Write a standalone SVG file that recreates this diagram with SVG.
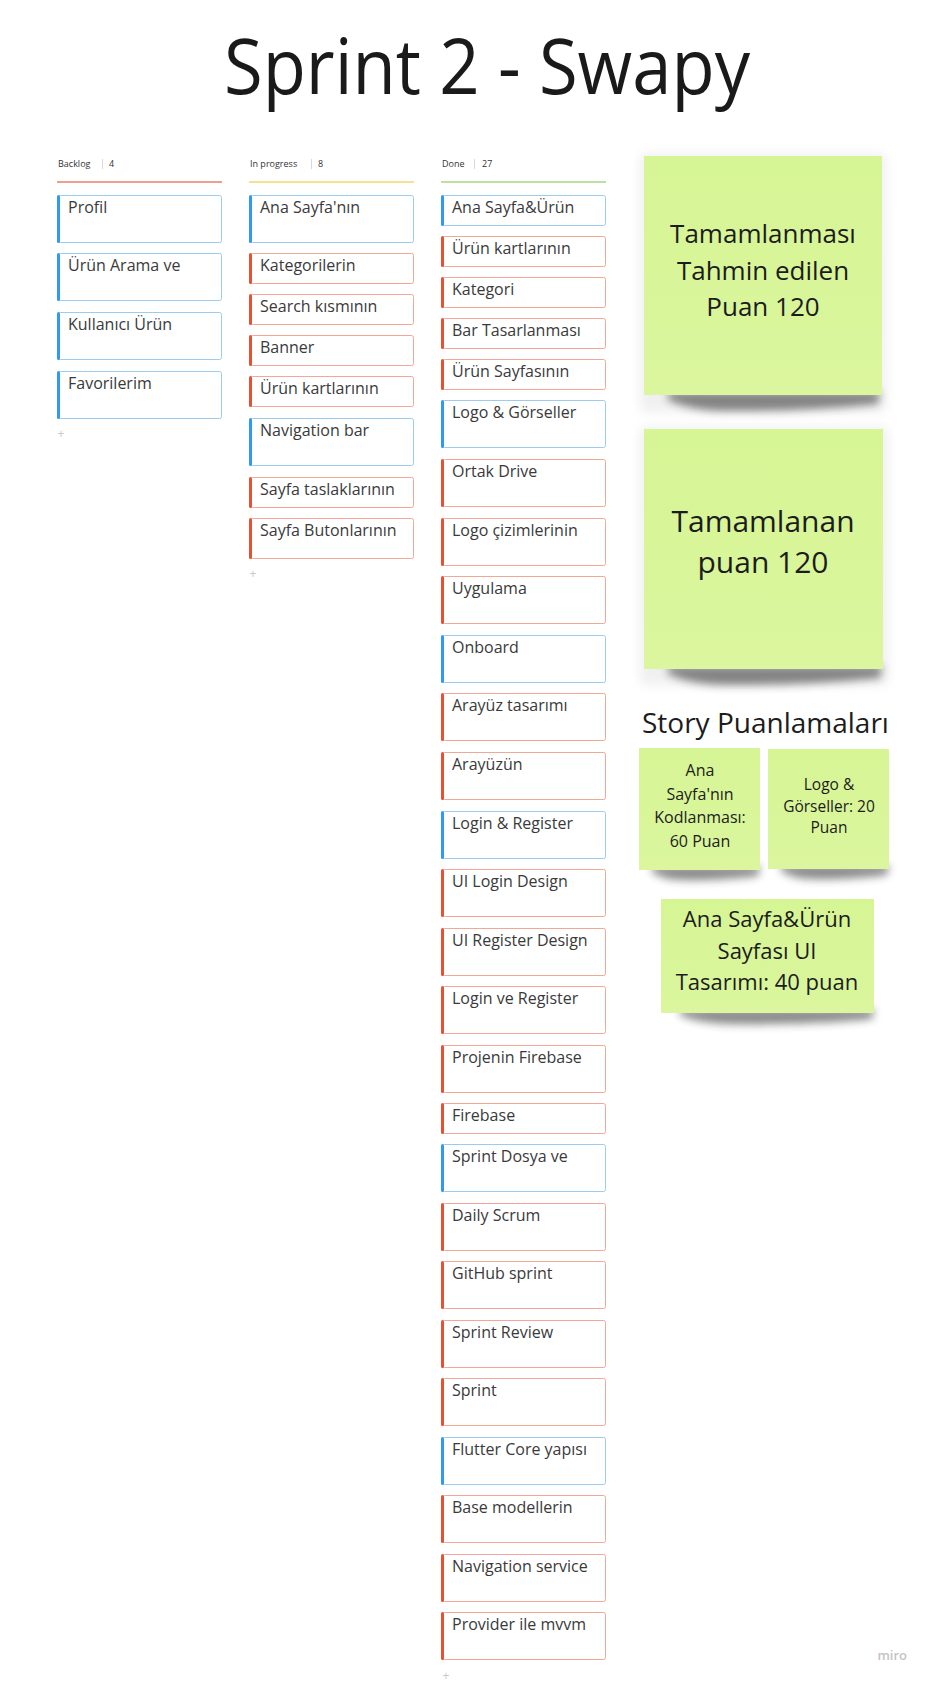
<svg xmlns="http://www.w3.org/2000/svg" width="928" height="1682" viewBox="0 0 928 1682">
<defs>
<filter id="blur" x="-20%" y="-100%" width="140%" height="300%"><feGaussianBlur stdDeviation="4"/></filter>
<filter id="blur2" x="-20%" y="-20%" width="140%" height="140%"><feGaussianBlur stdDeviation="6"/></filter>
<linearGradient id="stk" x1="0" y1="0" x2="0" y2="1"><stop offset="0" stop-color="#d6f594"/><stop offset="1" stop-color="#dbf69e"/></linearGradient>
</defs>
<style>
text{font-family:"Open Sans","Noto Sans","Liberation Sans",sans-serif}
.title{font-size:76px;fill:#1a1a1a}
.hdr{font-size:9px;fill:#333}
.sep{stroke:#d8d8d8;stroke-width:1}
.card .box{fill:#fff;stroke-width:1}
.card text{font-size:16px;fill:#3a3a3a}
.blue .box{stroke:#9ccbf0}
.blue .bar{fill:#2f9bf0}
.red .box{stroke:#f2a797}
.red .bar{fill:#e8512f}
.plus{font-size:12px;fill:#c8c8c8;text-anchor:middle}
.note{fill:url(#stk)}
.shadow{fill:#2a2a2a;opacity:0.55;filter:url(#blur)}
.glow{fill:#000;opacity:0.06;filter:url(#blur2)}
.ntext{fill:#1c1c1c;text-anchor:middle}
</style>
<rect width="928" height="1682" fill="#fff"/>
<g id="title"><text class="title" x="487" y="94" text-anchor="middle" textLength="526" lengthAdjust="spacingAndGlyphs">Sprint 2 - Swapy</text></g>

<g id="col-backlog">
<text class="hdr" x="58" y="167">Backlog</text><line class="sep" x1="102.5" y1="159" x2="102.5" y2="169"/><text class="hdr" x="109" y="167">4</text>
<line x1="57" y1="182" x2="222" y2="182" stroke="#e8806a" stroke-width="1.6"/>
</g>
<g id="col-progress">
<text class="hdr" x="250" y="167">In progress</text><line class="sep" x1="311.5" y1="159" x2="311.5" y2="169"/><text class="hdr" x="318" y="167">8</text>
<line x1="249" y1="182" x2="414" y2="182" stroke="#f5d66a" stroke-width="1.6"/>
</g>
<g id="col-done">
<text class="hdr" x="442" y="167">Done</text><line class="sep" x1="474.5" y1="159" x2="474.5" y2="169"/><text class="hdr" x="482" y="167">27</text>
<line x1="441" y1="182" x2="606" y2="182" stroke="#a8d47f" stroke-width="1.6"/>
</g>

<!-- Backlog cards -->
<g id="b1" class="card blue"><rect class="box" x="58.5" y="195.5" width="163" height="47" rx="2"/><rect class="bar" x="57" y="195" width="3" height="48" rx="1.5"/><text x="68" y="213">Profil</text></g>
<g id="b2" class="card blue"><rect class="box" x="58.5" y="253.5" width="163" height="47" rx="2"/><rect class="bar" x="57" y="253" width="3" height="48" rx="1.5"/><text x="68" y="271">Ürün Arama ve</text></g>
<g id="b3" class="card blue"><rect class="box" x="58.5" y="312.5" width="163" height="47" rx="2"/><rect class="bar" x="57" y="312" width="3" height="48" rx="1.5"/><text x="68" y="330">Kullanıcı Ürün</text></g>
<g id="b4" class="card blue"><rect class="box" x="58.5" y="371.5" width="163" height="47" rx="2"/><rect class="bar" x="57" y="371" width="3" height="48" rx="1.5"/><text x="68" y="389">Favorilerim</text></g>
<text class="plus" x="61" y="438">+</text>

<!-- In progress cards -->
<g id="p1" class="card blue"><rect class="box" x="250.5" y="195.5" width="163" height="47" rx="2"/><rect class="bar" x="249" y="195" width="3" height="48" rx="1.5"/><text x="260" y="213">Ana Sayfa'nın</text></g>
<g id="p2" class="card red"><rect class="box" x="250.5" y="253.5" width="163" height="30" rx="2"/><rect class="bar" x="249" y="253" width="3" height="31" rx="1.5"/><text x="260" y="271">Kategorilerin</text></g>
<g id="p3" class="card red"><rect class="box" x="250.5" y="294.5" width="163" height="30" rx="2"/><rect class="bar" x="249" y="294" width="3" height="31" rx="1.5"/><text x="260" y="312">Search kısmının</text></g>
<g id="p4" class="card red"><rect class="box" x="250.5" y="335.5" width="163" height="30" rx="2"/><rect class="bar" x="249" y="335" width="3" height="31" rx="1.5"/><text x="260" y="353">Banner</text></g>
<g id="p5" class="card red"><rect class="box" x="250.5" y="376.5" width="163" height="30" rx="2"/><rect class="bar" x="249" y="376" width="3" height="31" rx="1.5"/><text x="260" y="394">Ürün kartlarının</text></g>
<g id="p6" class="card blue"><rect class="box" x="250.5" y="418.5" width="163" height="47" rx="2"/><rect class="bar" x="249" y="418" width="3" height="48" rx="1.5"/><text x="260" y="436">Navigation bar</text></g>
<g id="p7" class="card red"><rect class="box" x="250.5" y="477.5" width="163" height="30" rx="2"/><rect class="bar" x="249" y="477" width="3" height="31" rx="1.5"/><text x="260" y="495">Sayfa taslaklarının</text></g>
<g id="p8" class="card red"><rect class="box" x="250.5" y="518.5" width="163" height="40" rx="2"/><rect class="bar" x="249" y="518" width="3" height="41" rx="1.5"/><text x="260" y="536">Sayfa Butonlarının</text></g>
<text class="plus" x="253" y="578">+</text>

<!-- Done cards -->
<g id="d1" class="card blue"><rect class="box" x="442.5" y="195.5" width="163" height="30" rx="2"/><rect class="bar" x="441" y="195" width="3" height="31" rx="1.5"/><text x="452" y="213">Ana Sayfa&amp;Ürün</text></g>
<g id="d2" class="card red"><rect class="box" x="442.5" y="236.5" width="163" height="30" rx="2"/><rect class="bar" x="441" y="236" width="3" height="31" rx="1.5"/><text x="452" y="254">Ürün kartlarının</text></g>
<g id="d3" class="card red"><rect class="box" x="442.5" y="277.5" width="163" height="30" rx="2"/><rect class="bar" x="441" y="277" width="3" height="31" rx="1.5"/><text x="452" y="295">Kategori</text></g>
<g id="d4" class="card red"><rect class="box" x="442.5" y="318.5" width="163" height="30" rx="2"/><rect class="bar" x="441" y="318" width="3" height="31" rx="1.5"/><text x="452" y="336">Bar Tasarlanması</text></g>
<g id="d5" class="card red"><rect class="box" x="442.5" y="359.5" width="163" height="30" rx="2"/><rect class="bar" x="441" y="359" width="3" height="31" rx="1.5"/><text x="452" y="377">Ürün Sayfasının</text></g>
<g id="d6" class="card blue"><rect class="box" x="442.5" y="400.5" width="163" height="47" rx="2"/><rect class="bar" x="441" y="400" width="3" height="48" rx="1.5"/><text x="452" y="418">Logo &amp; Görseller</text></g>
<g id="d7" class="card red"><rect class="box" x="442.5" y="459.5" width="163" height="47" rx="2"/><rect class="bar" x="441" y="459" width="3" height="48" rx="1.5"/><text x="452" y="477">Ortak Drive</text></g>
<g id="d8" class="card red"><rect class="box" x="442.5" y="518.5" width="163" height="47" rx="2"/><rect class="bar" x="441" y="518" width="3" height="48" rx="1.5"/><text x="452" y="536">Logo çizimlerinin</text></g>
<g id="d9" class="card red"><rect class="box" x="442.5" y="576.5" width="163" height="47" rx="2"/><rect class="bar" x="441" y="576" width="3" height="48" rx="1.5"/><text x="452" y="594">Uygulama</text></g>
<g id="d10" class="card blue"><rect class="box" x="442.5" y="635.5" width="163" height="47" rx="2"/><rect class="bar" x="441" y="635" width="3" height="48" rx="1.5"/><text x="452" y="653">Onboard</text></g>
<g id="d11" class="card red"><rect class="box" x="442.5" y="693.5" width="163" height="47" rx="2"/><rect class="bar" x="441" y="693" width="3" height="48" rx="1.5"/><text x="452" y="711">Arayüz tasarımı</text></g>
<g id="d12" class="card red"><rect class="box" x="442.5" y="752.5" width="163" height="47" rx="2"/><rect class="bar" x="441" y="752" width="3" height="48" rx="1.5"/><text x="452" y="770">Arayüzün</text></g>
<g id="d13" class="card blue"><rect class="box" x="442.5" y="811.5" width="163" height="47" rx="2"/><rect class="bar" x="441" y="811" width="3" height="48" rx="1.5"/><text x="452" y="829">Login &amp; Register</text></g>
<g id="d14" class="card red"><rect class="box" x="442.5" y="869.5" width="163" height="47" rx="2"/><rect class="bar" x="441" y="869" width="3" height="48" rx="1.5"/><text x="452" y="887">UI Login Design</text></g>
<g id="d15" class="card red"><rect class="box" x="442.5" y="928.5" width="163" height="47" rx="2"/><rect class="bar" x="441" y="928" width="3" height="48" rx="1.5"/><text x="452" y="946">UI Register Design</text></g>
<g id="d16" class="card red"><rect class="box" x="442.5" y="986.5" width="163" height="47" rx="2"/><rect class="bar" x="441" y="986" width="3" height="48" rx="1.5"/><text x="452" y="1004">Login ve Register</text></g>
<g id="d17" class="card red"><rect class="box" x="442.5" y="1045.5" width="163" height="47" rx="2"/><rect class="bar" x="441" y="1045" width="3" height="48" rx="1.5"/><text x="452" y="1063">Projenin Firebase</text></g>
<g id="d18" class="card red"><rect class="box" x="442.5" y="1103.5" width="163" height="30" rx="2"/><rect class="bar" x="441" y="1103" width="3" height="31" rx="1.5"/><text x="452" y="1121">Firebase</text></g>
<g id="d19" class="card blue"><rect class="box" x="442.5" y="1144.5" width="163" height="47" rx="2"/><rect class="bar" x="441" y="1144" width="3" height="48" rx="1.5"/><text x="452" y="1162">Sprint Dosya ve</text></g>
<g id="d20" class="card red"><rect class="box" x="442.5" y="1203.5" width="163" height="47" rx="2"/><rect class="bar" x="441" y="1203" width="3" height="48" rx="1.5"/><text x="452" y="1221">Daily Scrum</text></g>
<g id="d21" class="card red"><rect class="box" x="442.5" y="1261.5" width="163" height="47" rx="2"/><rect class="bar" x="441" y="1261" width="3" height="48" rx="1.5"/><text x="452" y="1279">GitHub sprint</text></g>
<g id="d22" class="card red"><rect class="box" x="442.5" y="1320.5" width="163" height="47" rx="2"/><rect class="bar" x="441" y="1320" width="3" height="48" rx="1.5"/><text x="452" y="1338">Sprint Review</text></g>
<g id="d23" class="card red"><rect class="box" x="442.5" y="1378.5" width="163" height="47" rx="2"/><rect class="bar" x="441" y="1378" width="3" height="48" rx="1.5"/><text x="452" y="1396">Sprint</text></g>
<g id="d24" class="card blue"><rect class="box" x="442.5" y="1437.5" width="163" height="47" rx="2"/><rect class="bar" x="441" y="1437" width="3" height="48" rx="1.5"/><text x="452" y="1455">Flutter Core yapısı</text></g>
<g id="d25" class="card red"><rect class="box" x="442.5" y="1495.5" width="163" height="47" rx="2"/><rect class="bar" x="441" y="1495" width="3" height="48" rx="1.5"/><text x="452" y="1513">Base modellerin</text></g>
<g id="d26" class="card red"><rect class="box" x="442.5" y="1554.5" width="163" height="47" rx="2"/><rect class="bar" x="441" y="1554" width="3" height="48" rx="1.5"/><text x="452" y="1572">Navigation service</text></g>
<g id="d27" class="card red"><rect class="box" x="442.5" y="1612.5" width="163" height="47" rx="2"/><rect class="bar" x="441" y="1612" width="3" height="48" rx="1.5"/><text x="452" y="1630">Provider ile mvvm</text></g>
<text class="plus" x="446" y="1680">+</text>

<!-- Sticky notes -->
<g id="s1">
<rect class="glow" x="640" y="154" width="246" height="258"/>
<path class="shadow" d="M668 392 L880 392 L878 404 Q800 412 720 411 Q690 410 668 400 Z"/>
<rect class="note" x="644" y="156" width="238" height="239"/>
<text class="ntext" x="763" y="243" font-size="26">Tamamlanması</text>
<text class="ntext" x="763" y="279.5" font-size="26">Tahmin edilen</text>
<text class="ntext" x="763" y="316" font-size="26">Puan 120</text>
</g>
<g id="s2">
<rect class="glow" x="640" y="427" width="248" height="258"/>
<path class="shadow" d="M668 666 L882 666 L880 678 Q800 686 720 685 Q690 684 668 674 Z"/>
<rect class="note" x="644" y="429" width="239" height="240"/>
<text class="ntext" x="763" y="532" font-size="30">Tamamlanan</text>
<text class="ntext" x="763" y="573" font-size="30">puan 120</text>
</g>
<g id="story-title"><text x="642" y="733" font-size="28" fill="#1c1c1c">Story Puanlamaları</text></g>
<g id="s3">
<path class="shadow" d="M652 866 L760 866 L758 876 Q720 881 680 880 Q662 879 652 872 Z"/>
<rect class="note" x="639" y="748" width="121" height="122"/>
<text class="ntext" x="700" y="776" font-size="16">Ana</text>
<text class="ntext" x="700" y="800" font-size="16">Sayfa'nın</text>
<text class="ntext" x="700" y="823" font-size="16">Kodlanması:</text>
<text class="ntext" x="700" y="847" font-size="16">60 Puan</text>
</g>
<g id="s4">
<path class="shadow" d="M781 865 L889 865 L887 875 Q850 880 810 879 Q792 878 781 871 Z"/>
<rect class="note" x="768" y="749" width="121" height="120"/>
<text class="ntext" x="829" y="790" font-size="15.5">Logo &amp;</text>
<text class="ntext" x="829" y="812" font-size="15.5">Görseller: 20</text>
<text class="ntext" x="829" y="833" font-size="15.5">Puan</text>
</g>
<g id="s5">
<path class="shadow" d="M680 1009 L874 1009 L872 1019 Q810 1025 730 1024 Q698 1023 680 1015 Z"/>
<rect class="note" x="661" y="899" width="213" height="114"/>
<text class="ntext" x="767" y="927" font-size="22">Ana Sayfa&amp;Ürün</text>
<text class="ntext" x="767" y="958.5" font-size="22">Sayfası UI</text>
<text class="ntext" x="767" y="990" font-size="22">Tasarımı: 40 puan</text>
</g>
<g id="connectors"/>
<text x="907" y="1660" font-size="13" font-weight="600" fill="#c4c4c4" text-anchor="end">miro</text>
</svg>
